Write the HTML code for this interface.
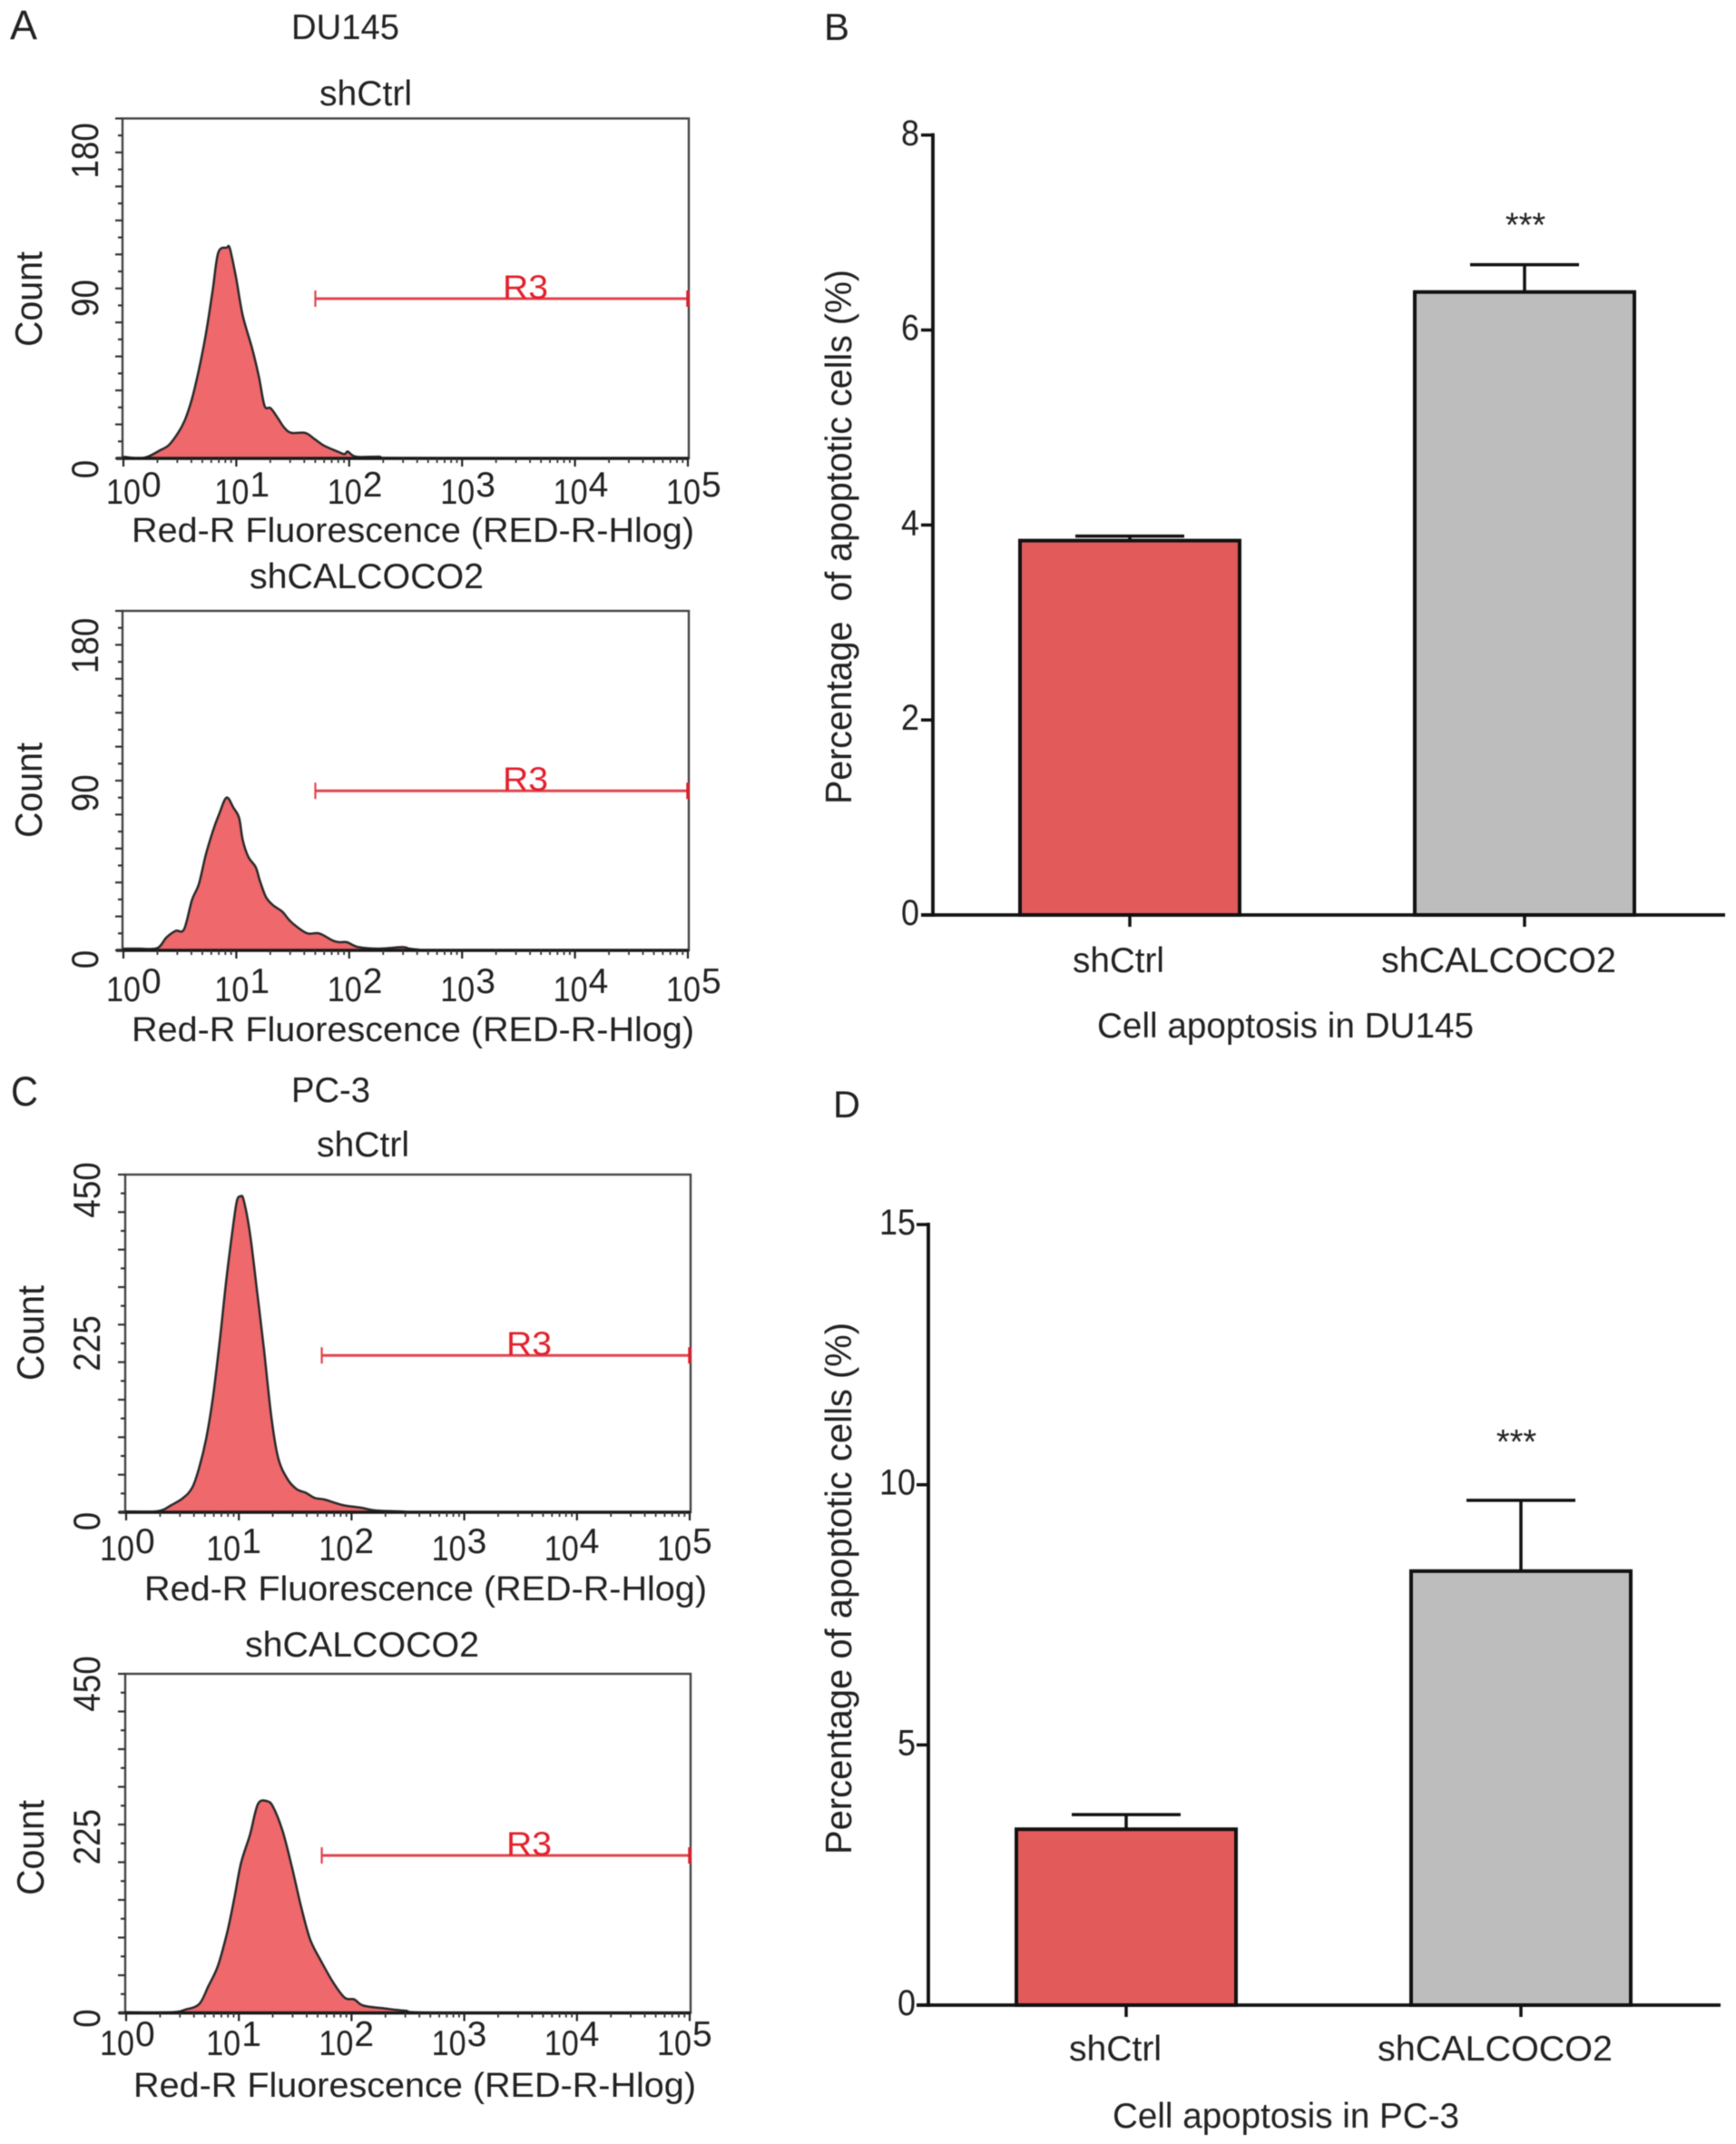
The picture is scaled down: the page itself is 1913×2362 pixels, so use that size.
<!DOCTYPE html>
<html lang="en">
<head>
<meta charset="utf-8">
<title>Cell apoptosis flow cytometry histograms and bar charts</title>
<style>
  html, body { margin: 0; padding: 0; background: #fff; }
  svg { display: block; filter: blur(0.5px); }
  text { font-family: "Liberation Sans", sans-serif; fill: #222; }
</style>
</head>
<body>
<svg id="figure" xmlns="http://www.w3.org/2000/svg" width="1913" height="2362" viewBox="0 0 1913 2362">
  <rect x="0" y="0" width="1913" height="2362" fill="#fff"/>

  <text x="11" y="43" font-size="45" textLength="30" lengthAdjust="spacingAndGlyphs">A</text>
  <text x="321" y="43" font-size="39" textLength="119" lengthAdjust="spacingAndGlyphs">DU145</text>
  <text x="352" y="116" font-size="39" textLength="102" lengthAdjust="spacingAndGlyphs">shCtrl</text>
  <text x="275" y="648" font-size="39" textLength="258" lengthAdjust="spacingAndGlyphs">shCALCOCO2</text>

  <text x="12" y="1218" font-size="45" textLength="30" lengthAdjust="spacingAndGlyphs">C</text>
  <text x="321" y="1214" font-size="39" textLength="87" lengthAdjust="spacingAndGlyphs">PC-3</text>
  <text x="349" y="1274" font-size="39" textLength="102" lengthAdjust="spacingAndGlyphs">shCtrl</text>
  <text x="270" y="1825" font-size="39" textLength="258" lengthAdjust="spacingAndGlyphs">shCALCOCO2</text>

  <text x="908" y="44" font-size="42" textLength="28" lengthAdjust="spacingAndGlyphs">B</text>
  <text x="1209" y="1143" font-size="39" textLength="415" lengthAdjust="spacingAndGlyphs">Cell apoptosis in DU145</text>
  <text transform="translate(938,886) rotate(-90)" x="0" y="0" font-size="41" textLength="589" lengthAdjust="spacingAndGlyphs">Percentage&#160; of apoptotic cells (%)</text>

  <text x="918" y="1231" font-size="42" textLength="30" lengthAdjust="spacingAndGlyphs">D</text>
  <text x="1226" y="2344" font-size="39" textLength="382" lengthAdjust="spacingAndGlyphs">Cell apoptosis in PC-3</text>
  <text transform="translate(938,2043) rotate(-90)" x="0" y="0" font-size="41" textLength="586" lengthAdjust="spacingAndGlyphs">Percentage of apoptotic cells (%)</text>
</svg>

<script>
// ---- Histogram data: log10 fluorescence and event counts ----
const du145CtrlLogFluor = [0,.135,.217,.32,.402,.484,.545,.607,.668,.73,.791,.84,.914,.943,.996,1.057,1.139,1.2,1.25,1.303,1.365,1.426,1.488,1.611,1.693,1.775,1.898,1.959,1.988,2.061,2.266,2.471,5];
const du145CtrlCounts = [1,0,1,4.6,7.8,15,22.6,35,52,73,99,121,124,123.5,107,84,65,48,31,29.6,24,18,15,15,11.4,7.6,4,2.5,4,1,1,.2,0];

const du145KnockLogFluor = [0,.135,.299,.381,.463,.537,.607,.668,.73,.791,.852,.914,.975,1.025,1.057,1.107,1.172,1.209,1.262,1.324,1.406,1.467,1.529,1.631,1.734,1.857,1.918,1.98,2.082,2.266,2.471,2.533,2.615,2.799,5];
const du145KnockCounts = [1,1,1.3,7.6,11.5,12.4,29.6,39,56.4,70,81,90,84,78,65,55,49,41,31.5,26.7,22.9,18,14.3,10,10,5.7,4.8,4.8,1.9,1,1.9,1,.4,0,0];

const pc3CtrlLogFluor = [0,.279,.402,.505,.587,.649,.71,.772,.833,.895,.956,.985,1.014,1.043,1.1,1.162,1.223,1.285,1.346,1.428,1.511,1.593,1.675,1.757,1.921,2.085,2.209,2.455,2.742,5];
const pc3CtrlCounts = [1,1.4,9.6,19,33,60,98,155,232,318,389,416,421,416,370,294,217,131,74,45,31,26,19,17,9.6,6,2.4,1,0,0];

const pc3KnockLogFluor = [0,.402,.525,.649,.731,.813,.895,.956,1.018,1.1,1.169,1.251,1.305,1.387,1.47,1.552,1.634,1.736,1.839,1.941,2.023,2.105,2.291,2.475,2.783,5];
const pc3KnockCounts = [.9,.9,4.4,11.9,36,62,106,149,198,237,277,281,273,242,194,141,97,67,40,20,18,9.7,6,3,.4,0];

const histDecades = [0,1,2,3,4,5];
const du145CountTicks = [180,90,0];
const pc3CountTicks = [450,225,0];
const du145GateLogStart = 1.70;
const du145GateCount = 94;
const pc3GateLogStart = 1.736;
const pc3GateCount = 209;

// ---- Bar data ----
const barCategories = ['shCtrl','shCALCOCO2'];
const du145Means = [3.84,6.39];
const du145Errors = [.046,.28];
const pc3Means = [3.38,8.34];
const pc3Errors = [.28,1.36];
const du145BarTicks = [0,2,4,6,8];
const pc3BarTicks = [0,5,10,15];
const significance = ['','***'];

const svg = document.getElementById('figure');
const NS = 'http://www.w3.org/2000/svg';

function make(tag, parent, name, attrs) {
  const el = document.createElementNS(NS, tag);
  
  
  for (const k in attrs) el.setAttribute(k, attrs[k]);
  parent.appendChild(el);
  return el;
}
function label(parent, name, str, attrs) {
  const el = make('text', parent, name, attrs);
  el.textContent = str;
  return el;
}

function smoothPath(pts, maxY) {
  let d = 'M' + pts[0][0].toFixed(1) + ' ' + pts[0][1].toFixed(1);
  for (let i = 0; i < pts.length - 1; i++) {
    const p0 = pts[Math.max(0, i - 1)], p1 = pts[i], p2 = pts[i + 1], p3 = pts[Math.min(pts.length - 1, i + 2)];
    const c1x = p1[0] + (p2[0] - p0[0]) / 6, c1y = Math.min(maxY, p1[1] + (p2[1] - p0[1]) / 6);
    const c2x = p2[0] - (p3[0] - p1[0]) / 6, c2y = Math.min(maxY, p2[1] - (p3[1] - p1[1]) / 6);
    d += 'C' + c1x.toFixed(1) + ' ' + c1y.toFixed(1) + ' ' + c2x.toFixed(1) + ' ' + c2y.toFixed(1) + ' ' + p2[0].toFixed(1) + ' ' + p2[1].toFixed(1);
  }
  return d;
}

function drawHistogram(cfg) {
  const g = make('g', svg, cfg.name, {});
  const x = d => cfg.x0 + d * cfg.decade;
  const y = v => cfg.bottom - v * (cfg.bottom - cfg.top) / cfg.yMax;

  // area
  const pts = cfg.logFluor.map((d, i) => [x(d), y(cfg.counts[i])]);
  const line = smoothPath(pts, y(0));
  const first = cfg.logFluor[0], last = cfg.logFluor[cfg.logFluor.length - 1];
  make('path', g, 'histogram-fill', { d: line + 'L' + x(last) + ' ' + y(0) + 'L' + x(first) + ' ' + y(0) + 'Z', fill: '#EE686C', stroke: 'none' });
  make('path', g, 'histogram-outline', { d: line, fill: 'none', stroke: '#2a2a2a', 'stroke-width': 2.5, 'stroke-linejoin': 'round' });

  // frame
  make('rect', g, 'plot-frame', { x: cfg.left, y: cfg.top, width: cfg.right - cfg.left, height: cfg.bottom - cfg.top, fill: 'none', stroke: '#444', 'stroke-width': 2.4 });
  make('line', g, 'x-axis-baseline', { x1: cfg.left - 7, x2: cfg.right, y1: cfg.bottom, y2: cfg.bottom, stroke: '#1a1a1a', 'stroke-width': 3.5 });

  // x ticks (log)
  histDecades.forEach(n => {
    make('line', g, 'x-major-tick', { x1: x(n), x2: x(n), y1: cfg.bottom, y2: cfg.bottom + 9, stroke: '#222', 'stroke-width': 2.2 });
    if (n < histDecades[histDecades.length - 1]) {
      for (let m = 2; m <= 9; m++) {
        const xm = x(n + Math.log10(m));
        make('line', g, 'x-minor-tick', { x1: xm, x2: xm, y1: cfg.bottom, y2: cfg.bottom + 5, stroke: '#333', 'stroke-width': 1.8 });
      }
    }
    const tx = x(n) + (n === 0 ? cfg.firstTenDx : cfg.tenDx);
    label(g, 'x-tick-base', '10', { x: tx, y: cfg.tenBase, 'font-size': 39, textLength: 38, lengthAdjust: 'spacingAndGlyphs' });
    label(g, 'x-tick-exponent', String(n), { x: tx + 39, y: cfg.supBase, 'font-size': 39 });
  });

  // y ticks
  const nTicks = Math.round(cfg.yMax / cfg.yStep);
  for (let i = 0; i <= nTicks; i++) {
    const v = i * cfg.yStep;
    const len = i % 2 === 0 ? 8 : 5;
    make('line', g, 'y-tick', { x1: cfg.left - len, x2: cfg.left, y1: y(v), y2: y(v), stroke: '#333', 'stroke-width': 2.2 });
  }
  cfg.yLabels.forEach((v, i) => {
    const s = String(v), len = 20.5 * s.length;
    const cy = y(v) + cfg.yNudge[i];
    label(g, 'y-tick-label', s, { transform: 'translate(' + cfg.yLabelX + ',' + (cy + len / 2) + ') rotate(-90)', x: 0, y: 0, 'font-size': 42, textLength: len, lengthAdjust: 'spacingAndGlyphs' });
  });

  label(g, 'y-axis-title', 'Count', { transform: 'translate(' + cfg.countX + ',' + cfg.countBottom + ') rotate(-90)', x: 0, y: 0, 'font-size': 42, textLength: 105, lengthAdjust: 'spacingAndGlyphs' });
  label(g, 'x-axis-title', 'Red-R Fluorescence (RED-R-Hlog)', { x: cfg.xTitleX, y: cfg.xTitleBase, 'font-size': 38, textLength: 620, lengthAdjust: 'spacingAndGlyphs' });

  // gate
  const gy = y(cfg.gateCount), gx1 = x(cfg.gateStart), gx2 = x(5);
  const gate = make('g', g, 'r3-gate', {});
  make('line', gate, 'r3-gate-line', { x1: gx1, x2: gx2, y1: gy, y2: gy, stroke: '#E2434F', 'stroke-width': 3 });
  make('line', gate, 'r3-gate-left-cap', { x1: gx1, x2: gx1, y1: gy - 9, y2: gy + 9, stroke: '#E2434F', 'stroke-width': 2.2 });
  make('line', gate, 'r3-gate-right-cap', { x1: gx2, x2: gx2, y1: gy - 9, y2: gy + 9, stroke: '#D8202E', 'stroke-width': 3.5 });
  const r3 = label(gate, 'r3-gate-label', 'R3', { x: cfg.r3X, y: gy, 'font-size': 37, textLength: 50, lengthAdjust: 'spacingAndGlyphs' });
  r3.style.fill = '#E2202C';
}

function drawBars(cfg) {
  const g = make('g', svg, cfg.name, {});
  const y = v => cfg.y0 - v * cfg.unit;
  const fills = ['#E35A5A', '#BDBDBD'];

  cfg.means.forEach((m, i) => {
    const cx = cfg.centers[i], hw = cfg.barHalf, top = y(m), errTop = y(m + cfg.errors[i]);
    make('line', g, 'error-stem-' + barCategories[i], { x1: cx, x2: cx, y1: top, y2: errTop, stroke: '#111', 'stroke-width': 3.5 });
    make('line', g, 'error-cap-' + barCategories[i], { x1: cx - 60, x2: cx + 60, y1: errTop, y2: errTop, stroke: '#111', 'stroke-width': 3.5 });
    make('rect', g, 'bar-' + barCategories[i], { x: cx - hw, y: top, width: hw * 2, height: cfg.y0 - top, fill: fills[i], stroke: '#111', 'stroke-width': 4 });
    make('line', g, 'x-tick-' + barCategories[i], { x1: cx, x2: cx, y1: cfg.y0, y2: cfg.y0 + 13, stroke: '#111', 'stroke-width': 3.5 });
    label(g, 'x-label-' + barCategories[i], barCategories[i], { x: cfg.labelX[i], y: cfg.labelBase, 'font-size': 39, textLength: cfg.labelW[i], lengthAdjust: 'spacingAndGlyphs' });
    if (significance[i]) {
      label(g, 'significance-marker', significance[i], { x: cx + cfg.starDx, y: errTop + cfg.starDy, 'font-size': 38, 'text-anchor': 'middle' });
    }
  });

  make('line', g, 'y-axis-line', { x1: cfg.axisX, x2: cfg.axisX, y1: y(cfg.ticks[cfg.ticks.length - 1]) - 2, y2: cfg.y0 + 2, stroke: '#111', 'stroke-width': 3.8 });
  make('line', g, 'x-axis-line', { x1: cfg.axisX - 13, x2: cfg.axisEnd, y1: cfg.y0, y2: cfg.y0, stroke: '#111', 'stroke-width': 3.8 });
  cfg.ticks.forEach(t => {
    const s = String(t), len = 20 * s.length;
    make('line', g, 'y-tick', { x1: cfg.axisX - 13, x2: cfg.axisX, y1: y(t), y2: y(t), stroke: '#111', 'stroke-width': 3.5 });
    label(g, 'y-tick-label', s, { x: cfg.tickLabelX - len, y: y(t) + 11, 'font-size': 40, textLength: len, lengthAdjust: 'spacingAndGlyphs' });
  });
}

drawHistogram({ name: 'du145-shctrl-histogram', logFluor: du145CtrlLogFluor, counts: du145CtrlCounts,
  left: 135, right: 759, top: 130.5, bottom: 505, x0: 136, decade: 124.4, yMax: 200, yStep: 10,
  yLabels: du145CountTicks, yNudge: [-2, -8, 12], yLabelX: 108, tenDx: -24, firstTenDx: -19, tenBase: 555, supBase: 547,
  countX: 46, countBottom: 382, xTitleX: 145, xTitleBase: 597, gateStart: du145GateLogStart, gateCount: du145GateCount, r3X: 554 });

drawHistogram({ name: 'du145-shcalcoco2-histogram', logFluor: du145KnockLogFluor, counts: du145KnockCounts,
  left: 135, right: 759, top: 673, bottom: 1047, x0: 136, decade: 124.4, yMax: 200, yStep: 10,
  yLabels: du145CountTicks, yNudge: [1, -5, 10], yLabelX: 108, tenDx: -24, firstTenDx: -19, tenBase: 1103, supBase: 1094,
  countX: 46, countBottom: 923, xTitleX: 145, xTitleBase: 1147, gateStart: du145GateLogStart, gateCount: du145GateCount, r3X: 554 });

drawHistogram({ name: 'pc3-shctrl-histogram', logFluor: pc3CtrlLogFluor, counts: pc3CtrlCounts,
  left: 138, right: 761, top: 1294, bottom: 1666, x0: 139, decade: 124.2, yMax: 450, yStep: 25,
  yLabels: pc3CountTicks, yNudge: [17, 0, 10], yLabelX: 110, tenDx: -36, firstTenDx: -29, tenBase: 1719, supBase: 1711,
  countX: 48, countBottom: 1521, xTitleX: 159, xTitleBase: 1763, gateStart: pc3GateLogStart, gateCount: pc3GateCount, r3X: 558 });

drawHistogram({ name: 'pc3-shcalcoco2-histogram', logFluor: pc3KnockLogFluor, counts: pc3KnockCounts,
  left: 138, right: 761, top: 1844, bottom: 2217.6, x0: 139, decade: 124.2, yMax: 450, yStep: 25,
  yLabels: pc3CountTicks, yNudge: [11, -7, 6], yLabelX: 110, tenDx: -36, firstTenDx: -29, tenBase: 2264, supBase: 2254,
  countX: 48, countBottom: 2088, xTitleX: 147, xTitleBase: 2310, gateStart: pc3GateLogStart, gateCount: pc3GateCount, r3X: 558 });

drawBars({ name: 'du145-bar-chart', means: du145Means, errors: du145Errors, ticks: du145BarTicks,
  y0: 1008, unit: 107.4, axisX: 1028, axisEnd: 1901, centers: [1245, 1680], barHalf: 121,
  labelX: [1182, 1522], labelW: [101, 259], labelBase: 1071, tickLabelX: 1013, starDx: 1, starDy: -31 });

drawBars({ name: 'pc3-bar-chart', means: pc3Means, errors: pc3Errors, ticks: pc3BarTicks,
  y0: 2209, unit: 57.33, axisX: 1023, axisEnd: 1896, centers: [1241, 1676], barHalf: 121,
  labelX: [1178, 1518], labelW: [102, 259], labelBase: 2270, tickLabelX: 1009, starDx: -5, starDy: -52 });
</script>
</body>
</html>
